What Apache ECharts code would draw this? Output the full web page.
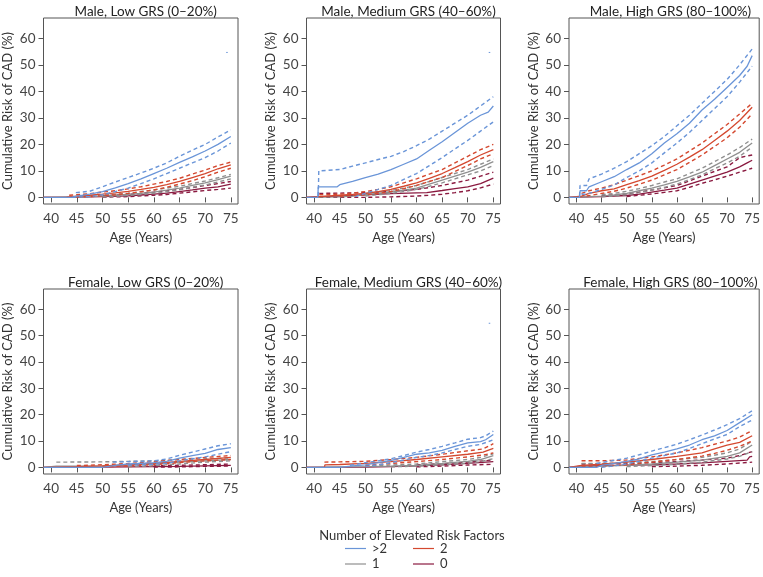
<!DOCTYPE html>
<html><head><meta charset="utf-8">
<script src="https://cdn.jsdelivr.net/npm/echarts@6/dist/echarts.min.js"></script>
<style>html,body{margin:0;padding:0;background:#fff}#c{width:763px;height:577px}</style>
</head><body><div id="c"></div>
<script>
// ---------- tick labels / titles ----------
const xTicks = [40,45,50,55,60,65,70,75];
const yTicks = [0,10,20,30,40,50,60];
const panelTitles = ['Male, Low GRS (0–20%)','Male, Medium GRS (40–60%)','Male, High GRS (80–100%)',
  'Female, Low GRS (0–20%)','Female, Medium GRS (40–60%)','Female, High GRS (80–100%)'];
const groupNames = ['>2','2','1','0'];
const strayMark = [[74.1,54.7],[74.4,54.7]];

// ---------- Male, Low ----------
const mLow_gt2 = [[38.5,0],[44,0],[45,0.5],[47.5,1.2],[50,2.2],[52.5,3.6],[55,5.2],[57.5,7],[60,9],[62.5,11],[65,13.2],[67.5,15.3],[70,17.5],[72.5,20],[75,23]];
const mLow_gt2_hi = [[44.8,1.8],[47.5,2.3],[50,4],[52.5,5.8],[55,7.5],[57.5,9.2],[60,11],[62.5,13],[65,15.5],[67.5,17.8],[70,20],[72.5,22.8],[75,25.5]];
const mLow_gt2_lo = [[44,0],[47.5,0.3],[50,1],[52.5,2.2],[55,3.5],[57.5,5.2],[60,7],[62.5,9],[65,11],[67.5,13],[70,15],[72.5,17.5],[75,20.5]];
const mLow_two = [[38.5,0],[43,0.1],[45,0.5],[47.5,0.8],[50,1.2],[52.5,1.7],[55,2.3],[57.5,3],[60,3.8],[62.5,4.8],[65,6],[67.5,7.5],[70,9],[72.5,10.8],[75,12.3]];
const mLow_two_hi = [[43.5,0.8],[45,1],[47.5,1.4],[50,2],[52.5,2.5],[55,3.2],[57.5,4],[60,5],[62.5,6],[65,7.2],[67.5,8.8],[70,10.3],[72.5,12],[75,13.3]];
const mLow_two_lo = [[45,0.1],[47.5,0.3],[50,0.6],[52.5,1],[55,1.5],[57.5,2.1],[60,2.8],[62.5,3.8],[65,5],[67.5,6.3],[70,7.8],[72.5,9.5],[75,11]];
const mLow_one = [[38.5,0],[45,0.2],[47.5,0.3],[50,0.5],[52.5,0.8],[55,1.1],[57.5,1.5],[60,2],[62.5,2.7],[65,3.5],[67.5,4.5],[70,5.5],[72.5,6.7],[75,8]];
const mLow_one_hi = [[45,0.4],[50,0.9],[52.5,1.2],[55,1.6],[57.5,2.2],[60,2.8],[62.5,3.5],[65,4.2],[67.5,5.2],[70,6.2],[72.5,7.4],[75,8.7]];
const mLow_one_lo = [[50,0.2],[52.5,0.4],[55,0.7],[57.5,1.1],[60,1.5],[62.5,2.1],[65,2.9],[67.5,3.8],[70,4.7],[72.5,5.8],[75,7]];
const mLow_zero = [[38.5,0],[45,0.1],[50,0.3],[55,0.6],[57.5,0.9],[60,1.2],[62.5,1.6],[65,2.2],[67.5,2.8],[70,3.5],[72.5,4],[75,5]];
const mLow_zero_hi = [[50,0.6],[55,1.1],[57.5,1.5],[60,2],[62.5,2.5],[65,3],[67.5,3.7],[70,4.5],[72.5,5.2],[75,6]];
const mLow_zero_lo = [[50,0.1],[55,0.3],[60,0.8],[62.5,1.1],[65,1.6],[67.5,2.1],[70,2.6],[72.5,3],[75,3.5]];

// ---------- Male, Medium ----------
const mMed_gt2 = [[38.5,0],[40.7,0],[40.8,4],[44.5,4],[45,4.8],[47.5,6],[50,7.5],[52.5,8.8],[55,10.5],[57.5,12.5],[60,14.5],[62.5,17.8],[65,21],[67.5,24.5],[70,28],[72.5,31],[74,32.2],[75,34.5]];
const mMed_gt2_hi = [[40.8,0.5],[40.9,10],[45,10.5],[47.5,11.8],[50,13],[52.5,14.3],[55,15.5],[57.5,17.3],[60,19.5],[62.5,22],[65,25],[67.5,28],[70,31],[72.5,34.5],[75,38]];
const mMed_gt2_lo = [[48,0.3],[50,1.5],[52.5,3],[55,4.5],[57.5,6.8],[60,9],[62.5,12],[65,15],[67.5,18.3],[70,21.5],[72.5,25],[75,28.5]];
const mMed_two = [[38.5,0],[41,0.3],[45,0.8],[47.5,1.1],[50,1.5],[52.5,2.2],[55,3],[57.5,4.2],[60,5.5],[62.5,7.2],[65,9],[67.5,11.2],[70,13.5],[72.5,16],[75,18]];
const mMed_two_hi = [[41,1],[45,1.2],[47.5,1.6],[50,2.2],[52.5,3],[55,4],[57.5,5.5],[60,7],[62.5,8.8],[65,10.5],[67.5,13],[70,15.5],[72.5,18],[75,20]];
const mMed_two_lo = [[45,0.4],[47.5,0.7],[50,1],[52.5,1.5],[55,2.2],[57.5,3.3],[60,4.5],[62.5,6],[65,7.5],[67.5,9.8],[70,12],[72.5,14.5],[75,16.5]];
const mMed_one = [[38.5,0],[45,0.2],[47.5,0.5],[50,1],[52.5,1.5],[55,2],[57.5,2.7],[60,3.5],[62.5,5],[65,6.5],[67.5,8],[70,9.5],[72.5,11.3],[75,13.5]];
const mMed_one_hi = [[50,1.5],[52.5,2],[55,2.6],[57.5,3.5],[60,4.5],[62.5,6],[65,7.5],[67.5,9],[70,10.5],[72.5,12.5],[75,14.5]];
const mMed_one_lo = [[50,0.5],[52.5,1],[55,1.5],[57.5,2.2],[60,3],[62.5,4.2],[65,5.5],[67.5,7],[70,8.5],[72.5,10],[75,12]];
const mMed_zero = [[38.5,0],[41,0.3],[45,0.5],[50,1],[55,1.4],[60,1.7],[62,1.8],[65,2.6],[67.5,3.3],[70,4],[72.5,5.2],[75,7.3]];
const mMed_zero_hi = [[41,1.5],[45,1.6],[50,1.8],[55,2.2],[60,3],[62.5,3.7],[65,4.5],[67.5,5.5],[70,6.5],[72.5,8],[75,9.5]];
const mMed_zero_lo = [[41,0],[50,0],[55,0.2],[60,0.5],[62.5,0.8],[65,1.2],[67.5,1.8],[70,2.5],[72.5,3.6],[75,5]];

// ---------- Male, High ----------
const mHigh_gt2 = [[38.5,0],[40.6,0],[40.7,2.5],[42,2.5],[42.5,4],[45,5.9],[47.5,7.8],[50,10.5],[52.5,13],[55,16.5],[57.5,20.5],[60,24],[62.5,28],[65,33],[67.5,37],[70,41.5],[72.5,46],[74,49.5],[75,53.5]];
const mHigh_gt2_hi = [[40.6,0.5],[40.7,4.5],[42,4.5],[42.5,7],[45,8.8],[47.5,11],[50,13.5],[52.5,16.5],[55,19.5],[57.5,23],[60,27],[62.5,31],[65,35.5],[67.5,40],[70,44.5],[72.5,50],[75,56]];
const mHigh_gt2_lo = [[41,1.2],[42,1.2],[42.5,1.5],[45,3],[47.5,4.7],[50,7.5],[52.5,10],[55,13],[57.5,16.8],[60,20.5],[62.5,24.5],[65,29],[67.5,33.5],[70,38],[72.5,43.5],[75,49.5]];
const mHigh_two = [[38.5,0],[41,0.5],[42.5,1.5],[45,2.5],[47.5,3.2],[50,4.8],[52.5,6.3],[55,8],[57.5,10.2],[60,12.5],[62.5,15.2],[65,18],[67.5,21.5],[70,25],[72.5,29],[75,34]];
const mHigh_two_hi = [[41,1.5],[42.5,2.5],[45,3.5],[47.5,4.8],[50,6.5],[52.5,8.2],[55,10],[57.5,12.2],[60,14.5],[62.5,17.5],[65,20.5],[67.5,24],[70,27.5],[72.5,31.5],[75,35.5]];
const mHigh_two_lo = [[42,0.5],[45,1.5],[47.5,2.3],[50,3.5],[52.5,5],[55,6.5],[57.5,8.5],[60,10.5],[62.5,13.2],[65,16],[67.5,19.2],[70,22.5],[72.5,26.5],[75,31.5]];
const mHigh_one = [[38.5,0],[45,0.5],[47.5,0.9],[50,1.5],[52.5,2.5],[55,3.5],[57.5,4.7],[60,6],[62.5,7.7],[65,9.5],[67.5,12],[70,14.5],[72.5,17],[75,20.5]];
const mHigh_one_hi = [[45,1],[47.5,1.5],[50,2.3],[52.5,3.3],[55,4.5],[57.5,5.8],[60,7],[62.5,9],[65,11],[67.5,13.5],[70,16],[72.5,18.8],[75,22]];
const mHigh_one_lo = [[45,0.2],[47.5,0.5],[50,1],[52.5,1.8],[55,2.8],[57.5,3.8],[60,5],[62.5,6.7],[65,8.5],[67.5,10.8],[70,13],[72.5,15.5],[75,19]];
const mHigh_zero = [[38.5,0],[45,0.3],[50,0.7],[52.5,1.2],[55,2],[57.5,2.7],[60,3.5],[62.5,5],[65,6.5],[67.5,8],[70,9.5],[72.5,11.5],[74,13],[75,14]];
const mHigh_zero_hi = [[45,0.6],[50,1.3],[52.5,2],[55,2.8],[57.5,3.6],[60,4.5],[62.5,6.2],[65,8],[67.5,9.8],[70,11.5],[72.5,15],[75,16]];
const mHigh_zero_lo = [[50,0.3],[52.5,0.8],[55,1.3],[57.5,1.9],[60,2.5],[62.5,3.8],[65,5.3],[67.5,6.6],[70,8],[72.5,9.5],[75,11]];

// ---------- Female, Low ----------
const fLow_gt2 = [[38.5,0],[50,0],[52.5,0.8],[55,1.3],[60,1.8],[62.5,2.3],[65,3.5],[67.5,4.5],[70,5.3],[72.5,6.8],[75,7.5]];
const fLow_gt2_hi = [[52,2],[55,2.2],[60,2.5],[62.5,3.2],[65,4.6],[67.5,5.8],[70,7],[72.5,8.2],[75,9]];
const fLow_gt2_lo = [[55,0.8],[60,1.2],[62.5,1.6],[65,2.5],[67.5,3.3],[70,4],[72.5,5],[75,6]];
const fLow_two = [[38.5,0],[45,0.3],[50,0.6],[55,1],[60,1.5],[65,2.3],[70,3],[75,3.8]];
const fLow_two_hi = [[45,0.7],[50,1],[55,1.5],[60,2.2],[65,3],[70,3.8],[75,4.5]];
const fLow_two_lo = [[50,0.2],[55,0.6],[60,1],[65,1.8],[70,2.5],[75,3]];
const fLow_one = [[38.5,0],[41,0.5],[45,0.5],[50,0.6],[55,1],[60,1.3],[65,2],[70,2.5],[75,3]];
const fLow_one_hi = [[41,2],[50,2.1],[55,2.3],[60,2.5],[65,3],[70,3.3],[75,3.6]];
const fLow_one_lo = [[55,0.3],[60,0.6],[65,1.3],[70,2],[75,2.5]];
const fLow_zero = [[38.5,0],[50,0.1],[55,0.2],[60,0.3],[65,0.4],[70,0.6],[75,0.8]];
const fLow_zero_hi = [[60,0.6],[65,0.8],[70,1],[75,1.3]];
const fLow_zero_lo = [[60,0.1],[65,0.2],[70,0.4],[75,0.5]];

// ---------- Female, Medium ----------
const fMed_gt2 = [[38.5,0],[45,0],[47.5,0.6],[50,1],[52.5,1.8],[55,2.7],[57.5,3.8],[60,5],[62.5,5.5],[65,6.5],[67.5,8],[70,9.3],[72.5,9.8],[73.5,10.5],[75,12.5]];
const fMed_gt2_hi = [[47,0.8],[50,1.8],[52.5,2.5],[55,3.3],[57.5,4.5],[60,5.8],[62.5,6.8],[65,8],[67.5,9.3],[70,10.7],[72.5,11.3],[73.5,12],[75,13.8]];
const fMed_gt2_lo = [[50,0.4],[52.5,1],[55,1.8],[57.5,2.8],[60,3.8],[62.5,4.5],[65,5.5],[67.5,6.8],[70,8],[72.5,8.7],[75,10.5]];
const fMed_two = [[38.5,0],[42,0],[42.1,1],[45,1.1],[50,1.5],[55,2.2],[60,3],[65,4],[70,5],[73,5.8],[75,7.2]];
const fMed_two_hi = [[42,2],[45,2.1],[50,2.3],[55,3],[60,3.8],[65,5],[70,6.3],[73,7],[75,9]];
const fMed_two_lo = [[50,0.7],[55,1.5],[60,2.2],[65,3],[70,4],[73,4.7],[75,5.5]];
const fMed_one = [[38.5,0],[45,0.2],[50,0.3],[55,0.5],[60,0.8],[65,1.5],[70,2.3],[72.5,3],[75,4.5]];
const fMed_one_hi = [[50,0.6],[55,0.9],[60,1.3],[65,2.2],[70,3],[72.5,3.8],[75,5.2]];
const fMed_one_lo = [[55,0.2],[60,0.5],[65,1],[70,1.6],[72.5,2.2],[75,3.3]];
const fMed_zero = [[38.5,0],[50,0.1],[55,0.3],[60,0.6],[65,1],[70,1.5],[75,2.2]];
const fMed_zero_hi = [[60,1],[65,1.4],[70,2],[75,2.8]];
const fMed_zero_lo = [[60,0.2],[65,0.5],[70,0.9],[75,1.2]];

// ---------- Female, High ----------
const fHigh_gt2 = [[38.5,0],[44,0],[45,0.8],[47.5,1.5],[50,2.3],[52,3],[55,4.8],[57.5,5.8],[60,7],[62.5,8.5],[65,10.5],[67.5,12],[70,14],[72.5,17],[75,20]];
const fHigh_gt2_hi = [[44,1.5],[47.5,2.7],[50,3.5],[52.5,4.8],[55,6.2],[57.5,7.5],[60,8.8],[62.5,10.5],[65,12.3],[67.5,14.2],[70,16.2],[72.5,18.5],[75,21.5]];
const fHigh_gt2_lo = [[45,0],[47.5,0.6],[50,1.3],[52.5,2.4],[55,3.5],[57.5,4.5],[60,5.5],[62.5,7.2],[65,9],[67.5,10.8],[70,12.5],[72.5,15.5],[75,18]];
const fHigh_two = [[38.5,0],[41,0.8],[45,1.2],[50,2],[55,3],[60,4.2],[65,5.5],[67.5,7],[70,8.5],[72.5,9.5],[75,12]];
const fHigh_two_hi = [[41,2.5],[45,2.5],[50,2.8],[55,4],[60,5.5],[65,7.5],[67.5,8.8],[70,10],[72.5,11.5],[75,14]];
const fHigh_two_lo = [[41,0.3],[45,0.5],[50,1],[55,2],[60,3],[65,4.3],[67.5,5.3],[70,6.5],[72.5,8],[75,10]];
const fHigh_one = [[38.5,0],[41,0.3],[45,0.5],[50,0.8],[55,1.3],[60,2],[65,2.8],[70,4.2],[72.5,5.5],[75,8.5]];
const fHigh_one_hi = [[41,1.5],[45,1.5],[50,1.8],[55,2.2],[60,3],[65,3.8],[70,5.5],[72.5,7],[75,10]];
const fHigh_one_lo = [[50,0.3],[55,0.7],[60,1.2],[65,2],[70,3.2],[72.5,4.2],[75,6]];
const fHigh_zero = [[38.5,0],[41,0.5],[45,0.7],[50,0.9],[55,1],[60,1.3],[65,1.7],[70,2.3],[74,2.8],[74.5,4],[75,4.2]];
const fHigh_zero_hi = [[41,1.3],[50,1.5],[55,1.8],[60,2.2],[65,2.8],[70,3.5],[72.5,4.5],[75,6]];
const fHigh_zero_lo = [[55,0.3],[60,0.5],[65,0.8],[70,1.3],[75,2]];

// ---------- assembly ----------
const panelData = [
  [[mLow_gt2,mLow_gt2_lo,mLow_gt2_hi],[mLow_two,mLow_two_lo,mLow_two_hi],[mLow_one,mLow_one_lo,mLow_one_hi],[mLow_zero,mLow_zero_lo,mLow_zero_hi]],
  [[mMed_gt2,mMed_gt2_lo,mMed_gt2_hi],[mMed_two,mMed_two_lo,mMed_two_hi],[mMed_one,mMed_one_lo,mMed_one_hi],[mMed_zero,mMed_zero_lo,mMed_zero_hi]],
  [[mHigh_gt2,mHigh_gt2_lo,mHigh_gt2_hi],[mHigh_two,mHigh_two_lo,mHigh_two_hi],[mHigh_one,mHigh_one_lo,mHigh_one_hi],[mHigh_zero,mHigh_zero_lo,mHigh_zero_hi]],
  [[fLow_gt2,fLow_gt2_lo,fLow_gt2_hi],[fLow_two,fLow_two_lo,fLow_two_hi],[fLow_one,fLow_one_lo,fLow_one_hi],[fLow_zero,fLow_zero_lo,fLow_zero_hi]],
  [[fMed_gt2,fMed_gt2_lo,fMed_gt2_hi],[fMed_two,fMed_two_lo,fMed_two_hi],[fMed_one,fMed_one_lo,fMed_one_hi],[fMed_zero,fMed_zero_lo,fMed_zero_hi]],
  [[fHigh_gt2,fHigh_gt2_lo,fHigh_gt2_hi],[fHigh_two,fHigh_two_lo,fHigh_two_hi],[fHigh_one,fHigh_one_lo,fHigh_one_hi],[fHigh_zero,fHigh_zero_lo,fHigh_zero_hi]]
];
const strayPanels = [0,1,4];

const colors = ['#6a95d8','#d4482f','#8f8f8f','#8a1a40'];
const FONT = 'Lato';
const colLeft = [43.5, 306.5, 569];
const colWidth = [194.5, 194, 193];
const rowTop = [18, 289];
const rowHeight = [186, 185];

const grids = [], xAxes = [], yAxes = [], series = [], titles = [];
for (let p = 0; p < 6; p++) {
  const r = Math.floor(p / 3), c = p % 3;
  grids.push({left: colLeft[c], top: rowTop[r], width: colWidth[c], height: rowHeight[r],
    show: true, borderColor: '#555', borderWidth: 1, backgroundColor: 'transparent', containLabel: false});
  titles.push({text: panelTitles[p], left: colLeft[c] + colWidth[c] / 2, top: rowTop[r] - 18, textAlign: 'center',
    textStyle: {fontFamily: FONT, fontSize: 13.5, fontWeight: 'normal', color: '#222'}});
  xAxes.push({type: 'value', gridIndex: p, min: 38.5, max: 76.4,
    name: 'Age (Years)', nameLocation: 'middle', nameGap: 27,
    nameTextStyle: {fontFamily: FONT, fontSize: 13, color: '#333'},
    axisLine: {show: false}, splitLine: {show: false},
    axisTick: {show: true, length: 5, customValues: xTicks, lineStyle: {color: '#555'}},
    axisLabel: {customValues: xTicks, margin: 8, fontFamily: FONT, fontSize: 13.5, color: '#444'}});
  yAxes.push({type: 'value', gridIndex: p, min: -2.5, max: 67.7,
    name: 'Cumulative Risk of CAD (%)', nameLocation: 'middle', nameGap: 29, nameRotate: 90,
    nameTextStyle: {fontFamily: FONT, fontSize: 13, color: '#333'},
    axisLine: {show: false}, splitLine: {show: false},
    axisTick: {show: true, length: 5, customValues: yTicks, lineStyle: {color: '#555'}},
    axisLabel: {customValues: yTicks, margin: 8, fontFamily: FONT, fontSize: 13.5, color: '#444'}});
  for (let g = 3; g >= 0; g--) {
    const [mid, lo, hi] = panelData[p][g];
    [lo, hi].forEach(d => series.push({type: 'line', name: groupNames[g] + ' CI', xAxisIndex: p, yAxisIndex: p,
      data: d, showSymbol: false, silent: true, animation: false,
      lineStyle: {color: colors[g], width: 1.4, type: [4, 3]}, itemStyle: {color: colors[g]}}));
    series.push({type: 'line', name: groupNames[g], xAxisIndex: p, yAxisIndex: p,
      data: mid, showSymbol: false, silent: true, animation: false,
      lineStyle: {color: colors[g], width: 1.3}, itemStyle: {color: colors[g]}});
  }
  if (strayPanels.includes(p)) {
    series.push({type: 'line', name: 'mark', xAxisIndex: p, yAxisIndex: p, data: strayMark,
      showSymbol: false, silent: true, animation: false, lineStyle: {color: colors[0], width: 1}});
  }
}

titles.push({text: 'Number of Elevated Risk Factors', left: 407, top: 524, textAlign: 'center',
  textStyle: {fontFamily: FONT, fontSize: 13, fontWeight: 'normal', color: '#333'}});

const legendPos = [[345, 542], [413, 542], [345, 557.5], [413, 557.5]];
const legends = groupNames.map((n, i) => ({
  data: [n], left: legendPos[i][0], top: legendPos[i][1], orient: 'horizontal',
  icon: 'rect', itemWidth: 21, itemHeight: 1.2, itemGap: 0, padding: 0,
  textStyle: {fontFamily: FONT, fontSize: 13, color: '#333', padding: [0, 0, 0, 1]},
  selectedMode: false
}));

const chart = echarts.init(document.getElementById('c'), null, {renderer: 'canvas'});
chart.setOption({
  animation: false,
  backgroundColor: '#fff',
  title: titles,
  legend: legends,
  grid: grids,
  xAxis: xAxes,
  yAxis: yAxes,
  series: series
});
</script></body></html>
